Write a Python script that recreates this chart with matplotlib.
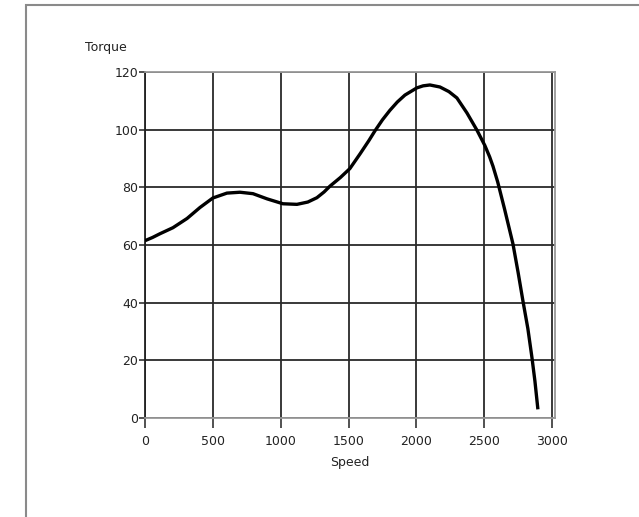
import matplotlib
matplotlib.use("Agg")
import matplotlib.pyplot as plt
from matplotlib.patches import Rectangle

# ---------------------------
# DATA
# ---------------------------
speed = [0, 55, 110, 206, 310, 405, 500, 604, 700, 796, 900, 1017, 1120,
         1200, 1267, 1320, 1363, 1440, 1510, 1585, 1650, 1695, 1750, 1805,
         1860, 1916, 2004, 2050, 2100, 2174, 2240, 2299, 2373, 2447, 2505,
         2540, 2565, 2600, 2650, 2712, 2750, 2786, 2822, 2852, 2874, 2896]
torque = [61.5, 62.6, 63.9, 66.0, 69.2, 73.0, 76.3, 78.0, 78.3, 77.8, 76.0, 74.3, 74.1,
          74.9, 76.4, 78.4, 80.4, 83.4, 86.5, 91.6, 96.2, 99.6, 103.4, 106.7,
          109.6, 112.0, 114.5, 115.2, 115.5, 114.8, 113.2, 111.0, 105.8, 99.8, 94.5,
          90.6, 87.3, 81.8, 72.5, 60.4, 50.5, 40.5, 31.0, 21.0, 12.8, 3.0]

x_ticks = [0, 500, 1000, 1500, 2000, 2500, 3000]
y_ticks = [0, 20, 40, 60, 80, 100, 120]

# ---------------------------
# FIGURE
# ---------------------------
fig = plt.figure(figsize=(6.39, 5.17), dpi=100)
ax = fig.add_axes([145 / 639, 1 - 418 / 517, 410 / 639, 346 / 517])

# outer grey frame (clipped by the figure on the right and bottom)
fig.patches.append(Rectangle((26 / 639, -0.1), 1.2, 0.1 + 1 - 5 / 517,
                             transform=fig.transFigure, fill=False,
                             edgecolor="#8a8a8a", linewidth=1.5))

ax.plot(speed, torque, color="black", linewidth=2.4, zorder=3,
        solid_joinstyle="round", solid_capstyle="butt")

ax.set_xlim(0, 3022)
ax.set_ylim(0, 120)
ax.set_xticks(x_ticks)
ax.set_yticks(y_ticks)

ax.grid(True, color="#2a2a2a", linewidth=1.3)
ax.set_axisbelow(True)

for side in ["top", "right", "bottom"]:
    ax.spines[side].set_color("#999999")
    ax.spines[side].set_linewidth(1.3)
ax.spines["left"].set_color("#222222")
ax.spines["left"].set_linewidth(1.3)

ax.tick_params(axis="x", length=7, width=1.2, color="#333333", pad=5,
               labelsize=9, labelcolor="#222222")
ax.tick_params(axis="y", length=4, width=1.2, color="#333333", pad=1,
               labelsize=9, labelcolor="#222222")

ax.set_xlabel("Speed", fontsize=9, color="#222222", labelpad=6)
fig.text(85 / 639, 1 - 47 / 517, "Torque", fontsize=9, color="#222222",
         ha="left", va="center")

fig.savefig("out.png", dpi=100, facecolor="white")
